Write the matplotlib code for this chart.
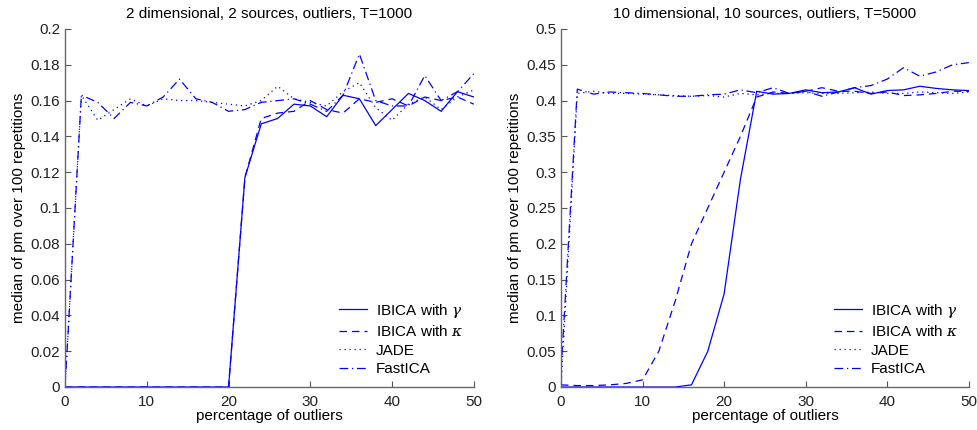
import numpy as np
import matplotlib.pyplot as plt

plt.rcParams['font.family'] = ['Liberation Sans', 'DejaVu Sans']
plt.rcParams['mathtext.fontset'] = 'dejavuserif'

pct = np.arange(0, 51, 2)

# 2 dimensional, 2 sources, T=1000
gam_2 = [0, 0, 0, 0, 0, 0, 0, 0, 0, 0, 0, 0.117, 0.147, 0.150, 0.158, 0.157,
         0.151, 0.163, 0.161, 0.146, 0.155, 0.164, 0.160, 0.154, 0.165, 0.162]
kap_2 = [0, 0, 0, 0, 0, 0, 0, 0, 0, 0, 0, 0.117, 0.150, 0.153, 0.154, 0.160,
         0.155, 0.153, 0.161, 0.159, 0.161, 0.157, 0.162, 0.160, 0.162, 0.158]
jade_2 = [0, 0.163, 0.149, 0.155, 0.161, 0.157, 0.161, 0.160, 0.160, 0.159,
          0.158, 0.157, 0.160, 0.168, 0.161, 0.159, 0.157, 0.165, 0.170, 0.156,
          0.149, 0.158, 0.162, 0.155, 0.162, 0.166]
fica_2 = [0, 0.163, 0.159, 0.150, 0.159, 0.157, 0.162, 0.172, 0.161, 0.159,
          0.154, 0.155, 0.159, 0.160, 0.161, 0.158, 0.154, 0.163, 0.186, 0.160,
          0.157, 0.157, 0.174, 0.160, 0.165, 0.175]

# 10 dimensional, 10 sources, T=5000
gam_10 = [0, 0, 0, 0, 0, 0, 0, 0, 0.003, 0.05, 0.13, 0.29, 0.413, 0.409, 0.410,
          0.415, 0.411, 0.412, 0.418, 0.409, 0.414, 0.415, 0.420, 0.417, 0.415, 0.414]
kap_10 = [0.003, 0.002, 0.002, 0.003, 0.005, 0.010, 0.05, 0.12, 0.20, 0.25, 0.30,
          0.35, 0.405, 0.412, 0.410, 0.413, 0.418, 0.413, 0.413, 0.410, 0.412,
          0.407, 0.408, 0.410, 0.413, 0.413]
jade_10 = [0, 0.410, 0.413, 0.410, 0.410, 0.409, 0.408, 0.407, 0.406, 0.407,
           0.405, 0.410, 0.408, 0.410, 0.410, 0.411, 0.410, 0.410, 0.411, 0.412,
           0.410, 0.410, 0.412, 0.411, 0.410, 0.412]
fica_10 = [0.02, 0.416, 0.409, 0.412, 0.411, 0.410, 0.408, 0.406, 0.406, 0.408,
           0.409, 0.415, 0.411, 0.418, 0.410, 0.413, 0.406, 0.412, 0.418, 0.421,
           0.430, 0.446, 0.434, 0.440, 0.450, 0.453]

labels = [r'IBICA with $\gamma$', r'IBICA with $\kappa$', 'JADE', 'FastICA']
styles = ['-', (0, (6, 4)), (0, (1, 3)), (0, (7, 3, 1, 3))]

fig = plt.figure(figsize=(9.78, 4.3), dpi=100)
ax1 = fig.add_axes([0.0665, 0.1, 0.418, 0.8326])
ax2 = fig.add_axes([0.5736, 0.1, 0.417, 0.8326])

panels = [
    (ax1, [gam_2, kap_2, jade_2, fica_2], '2 dimensional, 2 sources, outliers, T=1000',
     0.2, np.arange(0, 0.201, 0.02), ['0', '0.02', '0.04', '0.06', '0.08', '0.1',
                                      '0.12', '0.14', '0.16', '0.18', '0.2']),
    (ax2, [gam_10, kap_10, jade_10, fica_10], '10 dimensional, 10 sources, outliers, T=5000',
     0.5, np.arange(0, 0.501, 0.05), ['0', '0.05', '0.1', '0.15', '0.2', '0.25',
                                      '0.3', '0.35', '0.4', '0.45', '0.5']),
]

for ax, series, title, ymax, yt, ytl in panels:
    for s, lab, ls in zip(series, labels, styles):
        ax.plot(pct, s, color='#0000ff', linestyle=ls, linewidth=0.9, label=lab)
    ax.set_xlim(0, 50)
    ax.set_ylim(0, ymax)
    ax.set_xticks([0, 10, 20, 30, 40, 50])
    ax.set_yticks(yt)
    ax.set_yticklabels(ytl)
    ax.tick_params(direction='in', length=4, labelsize=11, colors='#222222')
    ax.tick_params(axis='both', color='#555555')
    ax.tick_params(axis='x', pad=6)
    for sp in ['top', 'right']:
        ax.spines[sp].set_visible(False)
    for sp in ['left', 'bottom']:
        ax.spines[sp].set_color('#666666')
        ax.spines[sp].set_linewidth(1.0)
    ax.set_title(title, fontsize=11, pad=8)
    ax.set_xlabel('percentage of outliers', fontsize=11, labelpad=0)
    ax.set_ylabel('median of pm over 100 repetitions', fontsize=11, labelpad=3)
    ax.legend(loc='lower right', bbox_to_anchor=(1.0, 0.0), frameon=False,
              fontsize=11, handlelength=1.8, handletextpad=0.6,
              borderaxespad=0.3, labelspacing=0.3)

fig.savefig('out.png', dpi=100)
